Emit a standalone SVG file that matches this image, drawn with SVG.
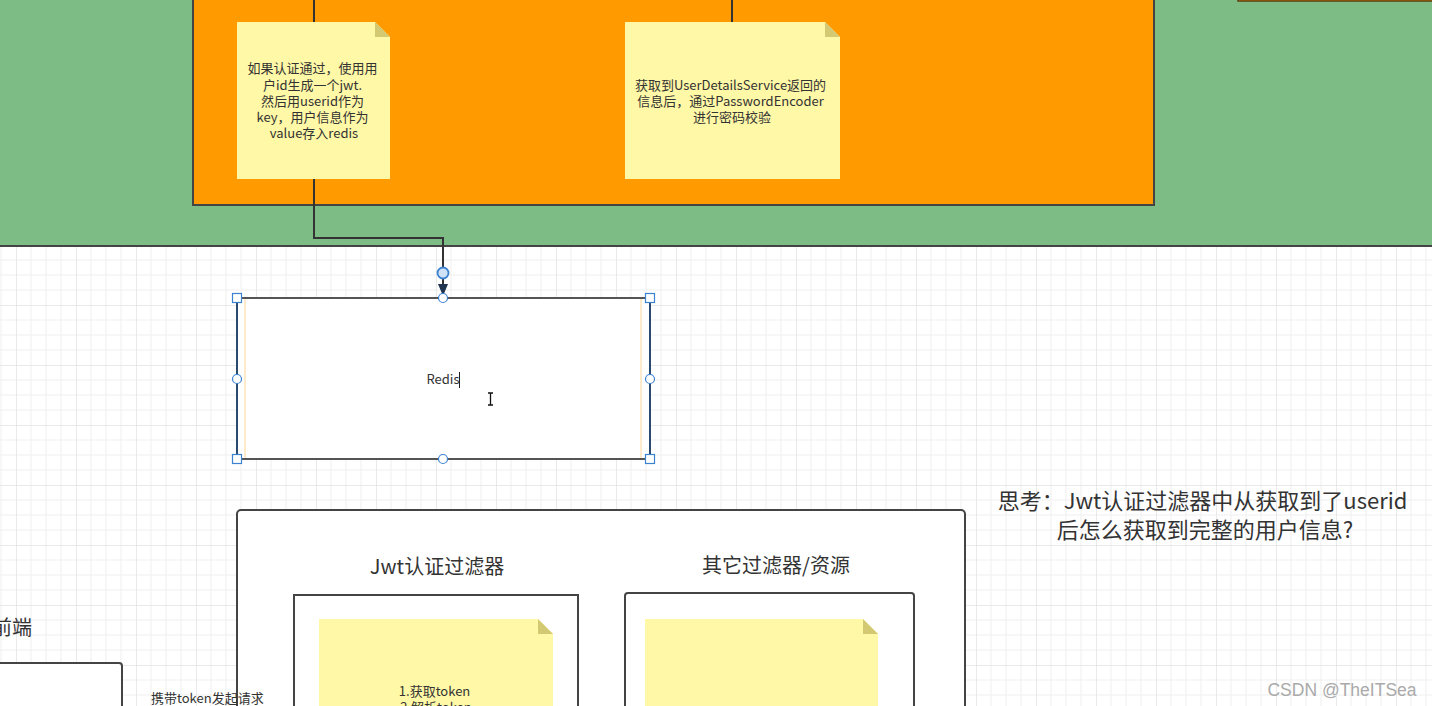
<svg xmlns="http://www.w3.org/2000/svg" width="1432" height="706" viewBox="0 0 1432 706">
<style>
.t{font-family:"Noto Sans CJK SC","Microsoft YaHei",sans-serif;fill:#333}
.s12{font-size:13px}
.s20{font-size:20px}
.s22{font-size:22px}
.note{fill:#fff8a6}
.fold{fill:#d2c972}
.box{fill:#fff;stroke:#444;stroke-width:2}
.conn{fill:none;stroke:#333;stroke-width:2}
.hs{fill:#fff;stroke:#3b82d0;stroke-width:1.2}
</style>
<defs>
<pattern id="grid" patternUnits="userSpaceOnUse" x="16" y="5" width="60" height="60">
<path d="M15 0V60M30 0V60M45 0V60M0 15H60M0 30H60M0 45H60" stroke="#efefef" stroke-width="1" fill="none"/>
<path d="M0 0V60M0 0H60" stroke="#e3e3e3" stroke-width="1.5" fill="none"/>
</pattern>
<marker id="arr" markerWidth="12" markerHeight="10" refX="12" refY="5" orient="auto" markerUnits="userSpaceOnUse" viewBox="0 0 12 10">
<path d="M0 0L12 5L0 10Z" fill="#1f3550"/>
</marker>
</defs>
<rect width="1432" height="706" fill="#fff"/>
<rect width="1432" height="706" fill="url(#grid)"/>

<g id="green-area">
<rect x="-2" y="-2" width="1436" height="248" fill="#7dbd85" stroke="#444" stroke-width="2"/>
</g>
<g id="orange-area">
<rect x="193" y="-5" width="961" height="210" fill="#ff9b00" stroke="#444" stroke-width="2"/>
</g>
<g id="orange-area-right">
<rect x="1238" y="-10" width="200" height="11" fill="#ff9b00" stroke="#5a3d10" stroke-width="1.5"/>
</g>

<g id="connectors">
<path class="conn" d="M314 0V22"/>
<path class="conn" d="M732 0V22"/>
<path class="conn" d="M314 179V238H443V296" marker-end="url(#arr)"/>
</g>

<g id="note1">
<path class="note" d="M237 22H375L390 37V179H237Z"/>
<path class="fold" d="M375 22L390 37H375Z"/>
<text class="t s12" text-anchor="middle">
<tspan x="314" y="73">如果认证通过，使用用</tspan>
<tspan x="314" y="90">户id生成一个jwt.</tspan>
<tspan x="314" y="106">然后用userid作为</tspan>
<tspan x="314" y="122">key，用户信息作为</tspan>
<tspan x="314" y="138">value存入redis</tspan>
</text>
</g>

<g id="note2">
<path class="note" d="M625 22H825L840 37V179H625Z"/>
<path class="fold" d="M825 22L840 37H825Z"/>
<text class="t s12" text-anchor="middle">
<tspan x="732" y="90">获取到UserDetailsService返回的</tspan>
<tspan x="732" y="106">信息后，通过PasswordEncoder</tspan>
<tspan x="732" y="122">进行密码校验</tspan>
</text>
</g>

<g id="redis">
<rect x="237" y="298" width="413" height="161" fill="#fff"/>
<path d="M237 298H650M237 459H650" stroke="#555" stroke-width="2"/>
<path d="M237 298V459M650 298V459" stroke="#2b4a70" stroke-width="2"/>
<path d="M245 299V458M641 299V458" stroke="#ffdcaa" stroke-width="1.2"/>
<text class="t s12" x="443" y="384" text-anchor="middle">Redis</text>
<path d="M459.5 372V388" stroke="#222" stroke-width="1"/>
<path d="M488 393H493M490.5 393V405M488 405H493" stroke="#111" stroke-width="1.3" fill="none"/>
<rect class="hs" x="232.5" y="293.5" width="9" height="9"/>
<rect class="hs" x="645.5" y="293.5" width="9" height="9"/>
<rect class="hs" x="232.5" y="454.5" width="9" height="9"/>
<rect class="hs" x="645.5" y="454.5" width="9" height="9"/>
<circle class="hs" cx="443" cy="298" r="4.5"/>
<circle class="hs" cx="443" cy="459" r="4.5"/>
<circle class="hs" cx="237" cy="379" r="4.5"/>
<circle class="hs" cx="650" cy="379" r="4.5"/>
<circle cx="443" cy="273" r="5.5" fill="#cfe2f7" stroke="#3b82d0" stroke-width="1.8"/>
</g>

<g id="server">
<rect class="box" x="237" y="510" width="728" height="220" rx="4"/>
<text class="t s20" x="437" y="574" text-anchor="middle">Jwt认证过滤器</text>
<text class="t s20" x="776" y="573" text-anchor="middle">其它过滤器/资源</text>
</g>

<g id="jwt-filter">
<rect class="box" x="294" y="595" width="284" height="130"/>
<path class="note" d="M319 619H538L553 634V720H319Z"/>
<path class="fold" d="M538 619L553 634H538Z"/>
<text class="t s12" text-anchor="middle">
<tspan x="436" y="696">1.获取token</tspan>
<tspan x="436" y="712">2.解析token</tspan>
</text>
</g>

<g id="other-filters">
<rect class="box" x="625" y="593" width="289" height="130" rx="3"/>
<path class="note" d="M645 619H863L878 634V720H645Z"/>
<path class="fold" d="M863 619L878 634H863Z"/>
</g>

<g id="frontend">
<text class="t s20" x="32" y="635" text-anchor="end">前端</text>
<rect class="box" x="-20" y="663" width="142" height="70" rx="3"/>
</g>

<g id="request-label">
<text class="t s12" x="151" y="703">携带token发起请求</text>
</g>

<g id="question">
<text class="t s22" text-anchor="middle">
<tspan x="1205" y="509">思考：Jwt认证过滤器中从获取到了userid</tspan>
<tspan x="1205" y="538">后怎么获取到完整的用户信息?</tspan>
</text>
</g>

<text x="1342" y="696" text-anchor="middle" font-family="Liberation Sans, Arial, sans-serif" font-size="17.5" fill="#aaa">CSDN @TheITSea</text>
</svg>
